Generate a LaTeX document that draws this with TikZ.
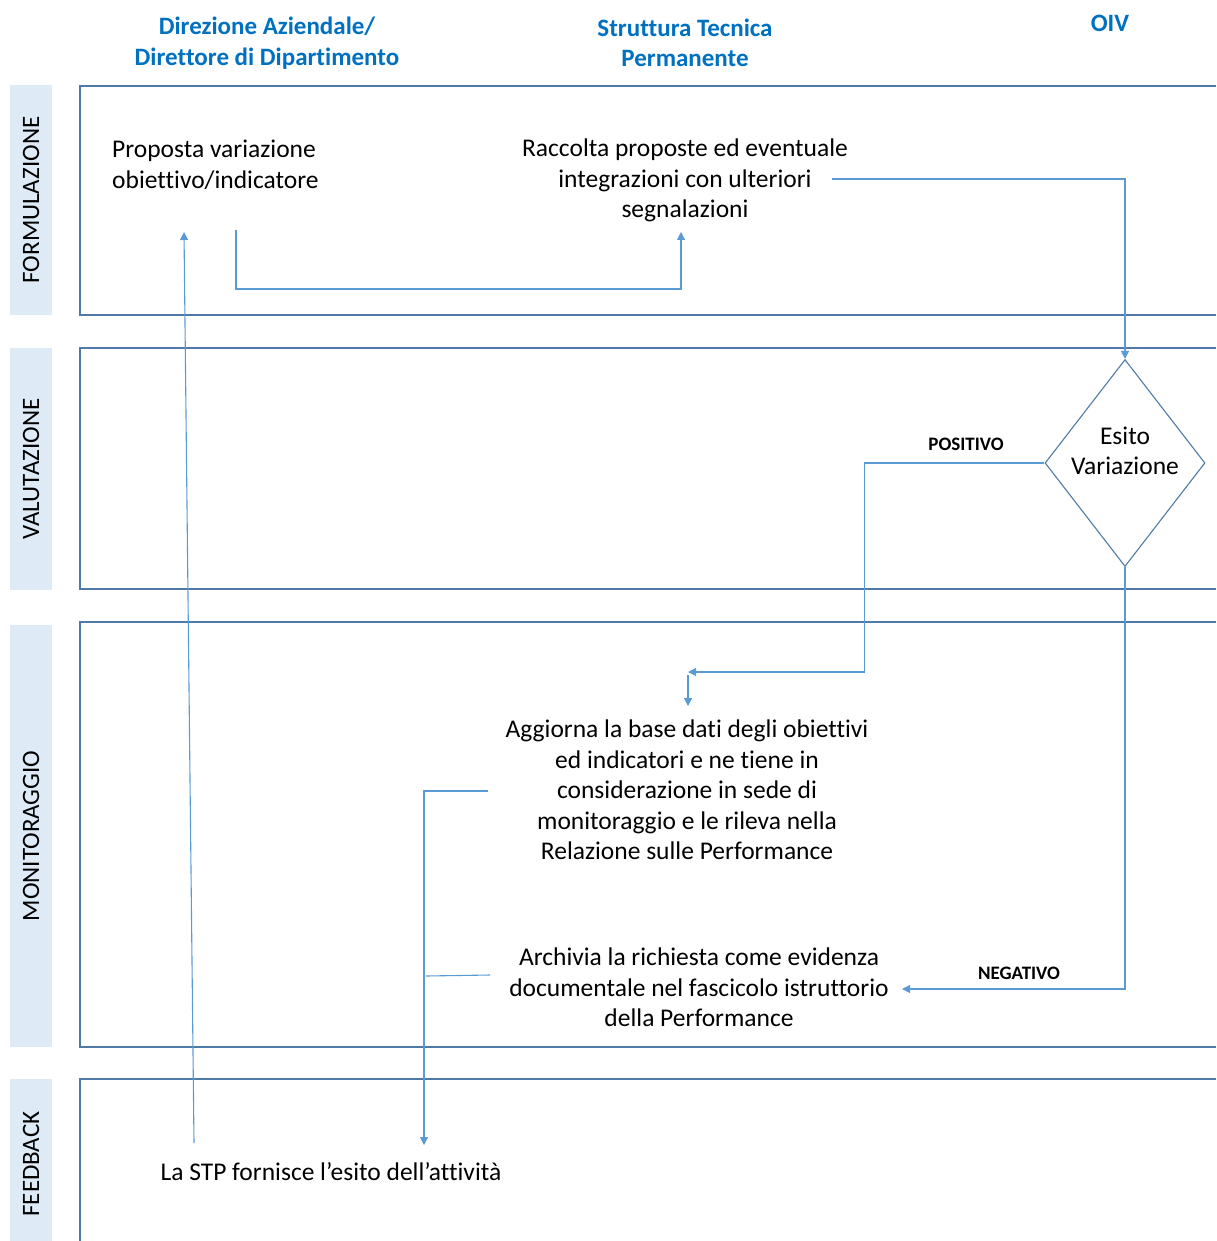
\documentclass[tikz,border=0pt]{standalone}
\usepackage{fontspec}
\setmainfont{Carlito}[Ligatures=NoCommon]
\usetikzlibrary{shapes.geometric,arrows.meta}
\definecolor{headblue}{HTML}{0070C0}
\definecolor{lanegray}{HTML}{4F7AA8}
\definecolor{lanefill}{HTML}{DEEAF6}
\definecolor{flowblue}{HTML}{5B9BD5}
\tikzset{
  head/.style={text=headblue,font=\fontsize{25}{30.5}\selectfont\bfseries,align=center},
  txt/.style={font=\fontsize{25.5}{30.5}\selectfont,align=center,inner sep=0pt},
  lane/.style={draw=lanegray,line width=1.6pt},
  lanetag/.style={fill=lanefill,minimum height=42pt,inner sep=0pt,rotate=90,font=\fontsize{25}{28}\selectfont},
  flow/.style={draw=flowblue,line width=1.1pt,-{Triangle[width=8pt,length=8pt]}},
  flowline/.style={draw=flowblue,line width=1.1pt},
  tag/.style={font=\fontsize{19}{21}\selectfont\bfseries}
}
\begin{document}
\begin{tikzpicture}[x=1pt,y=-1pt]
  \useasboundingbox (0,0) rectangle (1216,1241);
  % column headers
  \node[head] (hdir) at (267,43) {Direzione Aziendale/\\Direttore di Dipartimento};
  \node[head] (hstp) at (685,43) {Struttura Tecnica\\Permanente};
  \node[head] (hoiv) at (1110,23) {OIV};
  % lanes
  \draw[lane] (1216,86) -| (80,315) -- (1216,315);
  \draw[lane] (1216,348) -| (80,589) -- (1216,589);
  \draw[lane] (1216,622) -| (80,1047) -- (1216,1047);
  \draw[lane] (1216,1079) -| (80,1241);
  \node[lanetag,minimum width=230pt] (lform) at (31,200) {FORMULAZIONE};
  \node[lanetag,minimum width=242pt] (lval) at (31,469) {VALUTAZIONE};
  \node[lanetag,minimum width=422pt] (lmon) at (31,836) {MONITORAGGIO};
  \node[lanetag,minimum width=170pt] (lfeed) at (31,1164) {FEEDBACK};
  % activities
  \node[txt,align=left,anchor=west] (prop) at (112,165) {Proposta variazione\\obiettivo/indicatore};
  \node[txt] (racc) at (685,180.5) {Raccolta proposte ed eventuale\\integrazioni con ulteriori\\segnalazioni};
  \node[draw=lanegray,line width=1.1pt,diamond,minimum width=160pt,minimum height=207pt,inner sep=0pt] (esito) at (1125,463) {};
  \node[txt] (esitotxt) at ([yshift=12pt]esito.center) {Esito\\Variazione};
  \node[txt] (aggi) at (687,790) {Aggiorna la base dati degli obiettivi\\ed indicatori e ne tiene in\\considerazione in sede di\\monitoraggio e le rileva nella\\Relazione sulle Performance};
  \node[txt] (arch) at (699,987.5) {Archivia la richiesta come evidenza\\documentale nel fascicolo istruttorio\\della Performance};
  \node[txt] (stp) at (331,1172) {La STP fornisce l’esito dell’attività};
  % connector ends
  \coordinate (prop-out) at (236,230);
  \coordinate (racc-in) at (681,232);
  \coordinate (racc-out) at (832,179);
  \coordinate (pos-in) at (688,672);
  \coordinate (aggi-in) at (688,706);
  \coordinate (neg-in) at (902,989);
  \coordinate (aggi-out) at (488,791);
  \coordinate (arch-out) at (490,975);
  \coordinate (stp-in) at (424,1145);
  \coordinate (stp-out) at (194,1143);
  \coordinate (prop-in) at (184,232);
  \begin{scope}
    \draw[flow] (prop-out) -- ++(0,59) -| (racc-in);
    \draw[flow] (racc-out) -| (esito.north);
    \draw[flow] (esito.west) -- ++(-180,0) |- (pos-in);
    \draw[flow] ([yshift=-3pt]pos-in) -- (aggi-in);
    \draw[flow] (esito.south) |- (neg-in);
    \draw[flow] (aggi-out) -| (stp-in);
    \draw[flowline] (arch-out) -- (426,976);
    \draw[flow] (stp-out) -- (prop-in);
  \end{scope}
  \node[tag] (pos) at (966,444) {POSITIVO};
  \node[tag] (neg) at (1019,973) {NEGATIVO};
\end{tikzpicture}
\end{document}
